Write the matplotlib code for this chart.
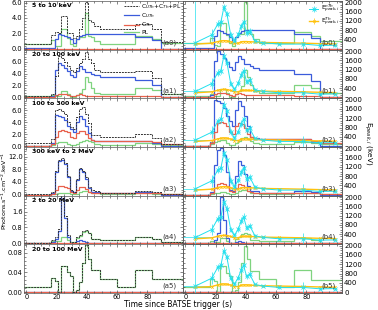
import numpy as np
import matplotlib.pyplot as plt
from matplotlib.ticker import AutoMinorLocator, FixedLocator

# time bin edges (s)
edges = [-3, 16, 19, 21, 23, 25, 27, 29, 31, 33, 35, 37, 39, 41, 43, 45, 49, 60, 72, 83, 89, 105]

bands = ['5 to 10 keV', '20 to 100 keV', '100 to 300 keV',
         '300 keV to 2 MeV', '2 to 20 MeV', '20 to 100 MeV']

# total C_UTh+C_Th+PL (dashed)
tot0 = [0.6, 1.8, 2.2, 2.0, 4.3, 4.3, 2.1, 2.1, 1.4, 1.6, 2.5, 4.0, 6.1, 3.7, 3.5, 2.9, 2.6, 2.6, 3.2, 2.6, 0.9]
tot1 = [0.3, 0.6, 3.6, 7.0, 6.6, 6.0, 5.3, 4.6, 4.3, 5.0, 5.8, 6.4, 7.6, 6.5, 5.8, 4.6, 4.3, 4.3, 4.4, 3.3, 0.5]
tot2 = [0.5, 1.2, 6.0, 6.2, 5.9, 5.4, 4.0, 3.2, 2.8, 4.8, 6.2, 6.6, 5.4, 3.8, 1.9, 1.9, 1.5, 1.5, 2.1, 1.3, 0.4]
tot3 = [0.3, 0.8, 7.5, 11.0, 11.5, 10.0, 6.0, 1.5, 1.0, 5.0, 8.5, 7.5, 5.5, 2.5, 1.5, 1.2, 0.6, 0.6, 1.1, 0.9, 0.2]
tot4 = [0.04, 0.15, 0.3, 0.7, 2.7, 1.4, 0.4, 0.05, 0.05, 0.3, 0.4, 0.6, 0.65, 0.5, 0.2, 0.2, 0.15, 0.15, 0.3, 0.2, 0.05]
tot5 = [0.010, 0.028, 0.022, 0.0, 0.053, 0.053, 0.040, 0.033, 0.0, 0.005, 0.020, 0.060, 0.096, 0.068, 0.044, 0.044, 0.027, 0.011, 0.045, 0.026, 0.026]

# C_UTh (blue)
uth0 = [0.05, 0.1, 1.3, 1.9, 1.8, 1.6, 1.5, 1.2, 0.7, 1.2, 1.6, 1.8, 1.9, 1.9, 1.9, 1.9, 1.9, 1.9, 1.5, 1.1, 0.0]
uth1 = [0.1, 0.3, 4.6, 5.8, 5.4, 4.9, 4.4, 3.8, 3.4, 4.4, 5.2, 4.8, 4.2, 4.2, 3.9, 3.7, 3.4, 3.4, 2.9, 2.1, 0.0]
uth2 = [0.05, 0.5, 5.2, 5.1, 4.8, 4.3, 3.4, 2.8, 2.3, 4.0, 5.1, 4.5, 3.4, 2.2, 1.0, 0.9, 0.8, 0.8, 0.8, 0.5, 0.0]
uth3 = [0.05, 0.6, 7.0, 10.5, 11.0, 9.5, 5.5, 1.2, 0.8, 4.5, 8.0, 7.0, 5.0, 2.0, 1.0, 0.8, 0.4, 0.4, 0.8, 0.6, 0.0]
uth4 = [0.0, 0.05, 0.2, 0.6, 2.6, 1.3, 0.3, 0.0, 0.0, 0.1, 0.15, 0.1, 0.05, 0.0, 0.0, 0.0, 0.0, 0.0, 0.0, 0.0, 0.0]
uth5 = [0.0] * 21

# C_Th (red)
th0 = [0.0] * 21
th1 = [0.05, 0.1, 0.4, 0.6, 0.6, 0.5, 0.4, 0.3, 0.2, 0.4, 0.5, 0.4, 0.3, 0.3, 0.3, 0.25, 0.25, 0.25, 0.2, 0.15, 0.05]
th2 = [0.05, 0.3, 1.6, 2.6, 2.7, 2.6, 2.3, 1.6, 1.3, 2.2, 2.6, 2.5, 2.0, 1.3, 1.0, 0.8, 0.8, 0.8, 0.8, 0.6, 0.3]
th3 = [0.05, 0.3, 1.5, 2.6, 2.8, 2.5, 2.0, 0.8, 0.6, 1.5, 2.5, 2.4, 1.8, 1.0, 0.6, 0.5, 0.4, 0.4, 0.5, 0.4, 0.2]
th4 = [0.0] * 21
th5 = [0.0] * 21

# PL (green)
pl0 = [0.55, 1.1, 0.4, 0.3, 2.6, 2.6, 1.4, 0.6, 0.3, 1.2, 1.5, 1.5, 4.6, 1.6, 1.5, 1.0, 0.6, 0.6, 1.7, 1.3, 0.8]
pl1 = [0.2, 0.4, 0.2, 0.2, 1.1, 1.1, 0.6, 0.1, 0.1, 0.4, 0.8, 1.4, 3.4, 2.6, 1.5, 0.8, 0.6, 0.6, 1.6, 1.2, 0.5]
pl2 = [0.05, 0.2, 0.5, 0.6, 0.7, 0.7, 0.4, 0.1, 0.1, 0.3, 0.6, 0.9, 1.0, 0.8, 0.6, 0.4, 0.2, 0.2, 0.5, 0.3, 0.2]
pl3 = [0.05, 0.1, 0.3, 0.5, 0.6, 0.6, 0.4, 0.1, 0.1, 0.3, 0.8, 1.2, 1.2, 0.8, 0.5, 0.4, 0.2, 0.2, 0.4, 0.3, 0.2]
pl4 = [0.04, 0.12, 0.1, 0.1, 0.3, 0.3, 0.15, 0.05, 0.05, 0.25, 0.35, 0.55, 0.6, 0.5, 0.2, 0.2, 0.15, 0.15, 0.3, 0.2, 0.05]
pl5 = tot5

# peak energies (keV)
ep_t = [6.7, 17.5, 21.5, 23.5, 25.5, 27.5, 30, 32.5, 35, 37, 38.5, 40.5, 42.5, 46, 51, 62, 78, 89, 99]
ep_nth = [260, 600, 1070, 1150, 1790, 1500, 600, 350, 620, 970, 1150, 680, 770, 330, 260, 200, 200, 140, 150]
ep_nth_err = [5000, 250, 150, 150, 150, 150, 120, 100, 120, 150, 150, 120, 120, 80, 60, 60, 250, 60, 60]
ep_th = [200, 240, 310, 340, 350, 340, 300, 240, 240, 300, 310, 310, 300, 290, 270, 260, 240, 220, 210]
ep_th_err = [30, 30, 30, 30, 30, 30, 30, 30, 30, 30, 30, 30, 30, 30, 30, 30, 60, 30, 30]

tots = [tot0, tot1, tot2, tot3, tot4, tot5]
uths = [uth0, uth1, uth2, uth3, uth4, uth5]
ths = [th0, th1, th2, th3, th4, th5]
pls = [pl0, pl1, pl2, pl3, pl4, pl5]

ylims = [6.2, 8, 8, 15, 2.4, 0.097]
yticks = [[0, 2, 4, 6], [0, 2, 4, 6], [0, 2, 4, 6], [0, 4, 8, 12], [0, 0.8, 1.6], [0, 0.04, 0.08]]
yfmt = ['%.1f'] * 5 + ['%.2f']

c_tot, c_uth, c_th, c_pl = '#333333', '#3b5bdb', '#e8604c', '#7fd37f'
c_nth, c_eth = '#22e0ee', '#ffc20e'

fig = plt.figure(figsize=(3.78, 3.10), dpi=100)
L0, R0, W = 24 / 378, 183 / 378, 159 / 378
top, bot = 1 - 1 / 310, 1 - 293 / 310
h = (top - bot) / 6
xl = (-1.5, 103.5)


def style(ax, right=True):
    ax.tick_params(which='both', direction='in', labelsize=4.8, pad=1.0,
                   width=0.5, color='#555555', top=True, right=right)
    ax.tick_params(which='major', length=2.5)
    ax.tick_params(which='minor', length=1.3)
    ax.xaxis.set_minor_locator(AutoMinorLocator(4))
    ax.yaxis.set_minor_locator(AutoMinorLocator(5))
    for s in ax.spines.values():
        s.set_linewidth(0.5)
        s.set_color('#555555')


for i in range(6):
    y0 = top - (i + 1) * h
    axl = fig.add_axes([L0, y0, W, h])
    axr = fig.add_axes([R0, y0, W, h])
    axe = axr.twinx()

    # left: spectra components
    axl.stairs(pls[i], edges, baseline=None, color=c_pl, lw=0.9, label='PL')
    axl.stairs(uths[i], edges, baseline=None, color=c_uth, lw=0.9, label='C$_{UTh}$')
    axl.stairs(ths[i], edges, baseline=None, color=c_th, lw=0.9, label='C$_{Th}$')
    axl.stairs(tots[i], edges, baseline=None, color=c_tot, lw=0.7, ls=(0, (2, 1)),
               label='C$_{UTh}$+C$_{Th}$+PL')
    axl.set_xlim(xl)
    axl.set_ylim(-0.02 * ylims[i], ylims[i])
    axl.yaxis.set_major_locator(FixedLocator(yticks[i]))
    axl.set_yticklabels([yfmt[i] % v for v in yticks[i]])
    axl.xaxis.set_major_locator(FixedLocator([0, 20, 40, 60, 80]))
    style(axl)
    axl.text(0.05, 0.9, bands[i], transform=axl.transAxes, fontsize=4.5,
             fontweight='bold', va='center')
    axl.text(0.96, 0.15, '(a%d)' % i, transform=axl.transAxes, fontsize=5,
             ha='right', va='center', color='#333333')

    # right: normalised components + peak energies
    m = max(max(uths[i]), max(ths[i]), max(pls[i]))
    axr.stairs(pls[i], edges, baseline=None, color=c_pl, lw=0.9)
    axr.stairs(uths[i], edges, baseline=None, color=c_uth, lw=0.9)
    axr.stairs(ths[i], edges, baseline=None, color=c_th, lw=0.9)
    axr.set_xlim(xl)
    axr.set_ylim(-0.02 * m, 1.03 * m)
    axr.set_yticklabels([])
    axr.xaxis.set_major_locator(FixedLocator([0, 20, 40, 60, 80]))
    style(axr, right=False)

    axe.errorbar(ep_t, ep_th, yerr=ep_th_err, color=c_eth, lw=1.0, marker='x', ms=1.8,
                 mew=0.5, elinewidth=0.5, capsize=0, label='E$^{Th}_{peak,i}$')
    xerr = [[9] + [1] * 18, [10] + [1] * 18]
    axe.errorbar(ep_t, ep_nth, yerr=ep_nth_err, xerr=xerr, color=c_nth, lw=0.7,
                 marker='x', ms=2.3, mew=0.6, elinewidth=0.5, capsize=0,
                 label='E$^{nTh}_{peak,i}$')
    axe.set_ylim(-40, 2060)
    et = [0, 400, 800, 1200, 1600, 2000] if i == 5 else [400, 800, 1200, 1600, 2000]
    axe.yaxis.set_major_locator(FixedLocator(et))
    axe.tick_params(which='both', direction='in', labelsize=5, pad=1.5,
                    width=0.5, color='#555555')
    axe.tick_params(which='major', length=2.5)
    axe.tick_params(which='minor', length=1.3)
    axe.yaxis.set_minor_locator(AutoMinorLocator(4))
    for s in axe.spines.values():
        s.set_linewidth(0.5)
        s.set_color('#555555')
    axe.text(0.96, 0.15, '(b%d)' % i, transform=axe.transAxes, fontsize=5,
             ha='right', va='center', color='#333333')

    if i < 5:
        axl.set_xticklabels([])
        axr.set_xticklabels([])

    if i == 0:
        hd, lb = axl.get_legend_handles_labels()
        order = [3, 1, 2, 0]
        axl.legend([hd[k] for k in order], [lb[k] for k in order], loc='upper right',
                   fontsize=4.2, frameon=False, handlelength=2.6, labelspacing=0.05,
                   borderaxespad=0.1, handletextpad=0.4, borderpad=0.1)
        hd, lb = axe.get_legend_handles_labels()
        axe.legend(hd[::-1], lb[::-1], loc='upper right', fontsize=4.2, frameon=False,
                   handlelength=1.6, labelspacing=0.05, borderaxespad=0.3,
                   handletextpad=0.4, borderpad=0.1)

fig.text(0.47, 0.018, 'Time since BATSE trigger (s)', fontsize=5.5, ha='center', va='center')
fig.text(0.011, 0.385, 'Photons.s$^{-1}$.cm$^{-2}$.keV$^{-1}$', fontsize=4.6, rotation=90,
         ha='center', va='center')
fig.text(0.974, 0.54, 'E$_{peak,i}$ (keV)', fontsize=5.2, rotation=270,
         ha='center', va='center')

fig.savefig('out.png', dpi=100)
